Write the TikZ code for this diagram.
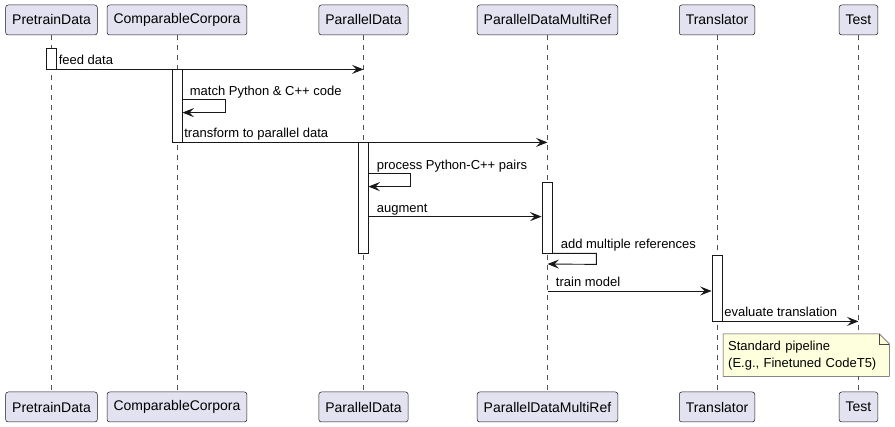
\documentclass[tikz,border=0pt]{standalone}
\usepackage{fontspec}
\setmainfont{Liberation Sans}
\usepackage{xcolor}
\usetikzlibrary{arrows.meta, positioning, backgrounds}
\definecolor{partfill}{HTML}{E2E2F0}
\definecolor{partline}{HTML}{181818}
\definecolor{notefill}{HTML}{FEFFDD}

\begin{document}
\begin{tikzpicture}[
    x=1pt, y=-1pt,
    part/.style={
        rectangle,
        draw=partline,
        line width=0.5pt,
        fill=partfill,
        rounded corners=2.5pt,
        minimum height=30pt,
        inner xsep=6.5pt,
        font=\fontsize{14}{16}\selectfont
    },
    lifeline/.style={draw=partline!75, line width=0.6pt, dash pattern=on 5pt off 5pt},
    actbar/.style={rectangle, draw=partline, line width=0.8pt, fill=white, minimum width=10pt, inner sep=0pt},
    msg/.style={-{Stealth[length=11.5pt, width=9pt, inset=4.5pt]}, line width=0.9pt, draw=partline},
    lbl/.style={font=\fontsize{13}{15}\selectfont, inner sep=0pt, anchor=base west, yshift=4.5pt},
    note/.style={anchor=north west, text width=156pt, minimum height=42pt, inner xsep=5pt, align=left, font=\fontsize{13}{17}\selectfont},
    notebox/.style={draw=partline!80, line width=0.5pt, fill=notefill}
]
\useasboundingbox (0,0) rectangle (895,427);

% participants, top and bottom
\node[part] (pt) at (51.5,20) {PretrainData};
\node[part] (cc) at (177,20) {ComparableCorpora};
\node[part] (pd) at (363.5,20) {ParallelData};
\node[part] (pm) at (547.5,20) {ParallelDataMultiRef};
\node[part] (tr) at (717,20) {Translator};
\node[part] (te) at (858.5,20) {Test};

\node[part] (pt-foot) at (51.5,407) {PretrainData};
\node[part] (cc-foot) at (177,407) {ComparableCorpora};
\node[part] (pd-foot) at (363.5,407) {ParallelData};
\node[part] (pm-foot) at (547.5,407) {ParallelDataMultiRef};
\node[part] (tr-foot) at (717,407) {Translator};
\node[part] (te-foot) at (858.5,407) {Test};

\begin{scope}[on background layer]
\foreach \p in {pt,cc,pd,pm,tr,te}
    \draw[lifeline] (\p.south) -- (\p-foot.north);
\end{scope}

% activations
\node[actbar, minimum height=21pt] (barPT) at (pt |- 0,58.5) {};
\node[actbar, minimum height=73pt] (barCC) at (cc |- 0,105.5) {};
\node[actbar, minimum height=111pt] (barPD) at (363,197.5) {};
\node[actbar, minimum height=71pt] (barPM) at (547,217.5) {};
\node[actbar, minimum height=66pt] (barTR) at (tr |- 0,288) {};

% messages
\draw[msg] (barPT.south east) -- node[lbl, pos=0, xshift=1.5pt] {feed data} (barPT.south east -| pd);
\draw[msg] ([yshift=-31pt]barCC.north east) node[lbl, xshift=7pt] {match Python \& C++ code}
    -- ++(43,0) -- ++(0,13) -- ++(-43,0);
\draw[msg] (barCC.south east) -- node[lbl, pos=0, xshift=1.5pt] {transform to parallel data} (barCC.south east -| pm);
\draw[msg] ([yshift=-32pt]barPD.north east) node[lbl, xshift=8pt] {process Python-C++ pairs}
    -- ++(42,0) -- ++(0,13) -- ++(-42,0);
\coordinate (augStart) at ([yshift=-75pt]barPD.north east);
\draw[msg] (augStart) node[lbl, xshift=8pt] {augment} -- (augStart -| barPM.west);
\draw[msg] (barPM.south east) node[lbl, xshift=8pt] {add multiple references}
    -- ++(44,0) -- ++(0,11) -- (pm |- 0,264);
\coordinate (trainStart) at (pm |- 0,291);
\draw[msg] (trainStart) node[lbl, xshift=8pt] {train model} -- (trainStart -| barTR.west);
\draw[msg] (barTR.south east) node[lbl, xshift=1.5pt] {evaluate translation} -- (barTR.south east -| te);

% note
\node[note] (remark) at (723,334) {Standard pipeline\\(E.g., Finetuned CodeT5)};
\begin{scope}[on background layer]
\draw[notebox] (remark.south west) -- (remark.north west) -- ([xshift=-10pt]remark.north east)
    -- ([yshift=-10pt]remark.north east) -- (remark.south east) -- cycle;
\draw[notebox, fill=none] ([xshift=-10pt]remark.north east) |- ([yshift=-10pt]remark.north east);
\end{scope}

\end{tikzpicture}
\end{document}
